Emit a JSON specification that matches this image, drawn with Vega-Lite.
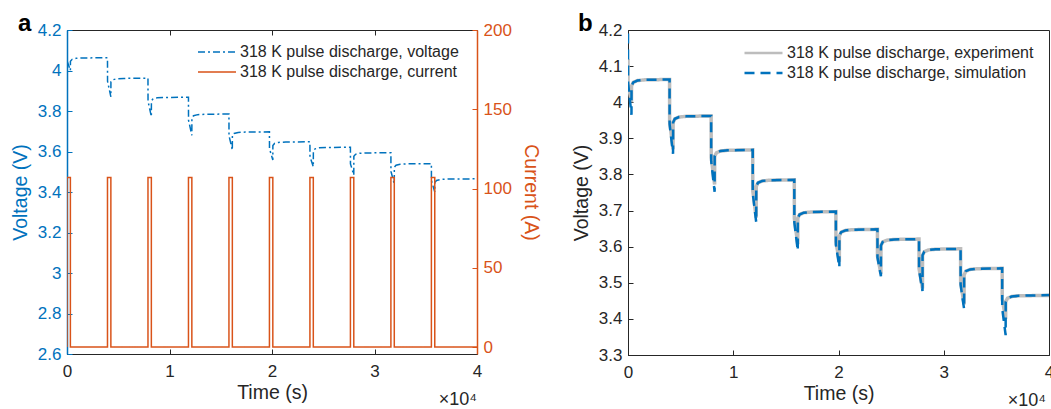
{
  "$schema": "https://vega.github.io/schema/vega-lite/v6.json",
  "autosize": {"type": "none"},
  "padding": {"left": 67, "top": 30, "right": 984, "bottom": 379},
  "background": "white",
  "bounds": "flush",
  "spacing": 561,
  "resolve": {"scale": {"color": "independent", "strokeDash": "independent"}, "legend": {"color": "independent", "strokeDash": "independent"}},
  "config": {
    "font": "Liberation Sans",
    "view": {"stroke": "#262626", "strokeWidth": 1},
    "axis": {
      "grid": false,
      "labelFontSize": 17,
      "titleFontSize": 19.5,
      "titleFontWeight": "normal",
      "labelColor": "#262626",
      "titleColor": "#262626",
      "domainColor": "#262626",
      "tickColor": "#262626",
      "tickSize": -5,
      "labelFlush": false,
      "labelOverlap": false,
      "labelFont": "Liberation Sans",
      "titleFont": "Liberation Sans"
    },
    "legend": {
      "labelFont": "Liberation Sans",
      "labelFontSize": 16,
      "labelColor": "#262626",
      "symbolType": "stroke",
      "symbolSize": 1444,
      "labelOffset": 3,
      "rowPadding": 2,
      "clipHeight": 18,
      "labelLimit": 400
    },
    "title": {"font": "Liberation Sans", "color": "black"}
  },
  "datasets": {
    "volt": [
      {"t":0,"exp":4.12,"sim":4.19},
      {"t":5,"exp":4.048,"sim":4.055},
      {"t":330,"exp":4.0,"sim":3.965},
      {"t":335,"exp":4.045,"sim":4.045},
      {"t":500,"exp":4.055,"sim":4.055},
      {"t":900,"exp":4.06,"sim":4.06},
      {"t":1600,"exp":4.062,"sim":4.062},
      {"t":3950,"exp":4.063,"sim":4.063},
      {"t":3955,"exp":3.947,"sim":3.939},
      {"t":4280,"exp":3.87,"sim":3.857},
      {"t":4285,"exp":3.944,"sim":3.944},
      {"t":4450,"exp":3.954,"sim":3.954},
      {"t":4850,"exp":3.959,"sim":3.959},
      {"t":5550,"exp":3.961,"sim":3.961},
      {"t":7900,"exp":3.962,"sim":3.962},
      {"t":7905,"exp":3.848,"sim":3.836},
      {"t":8230,"exp":3.772,"sim":3.752},
      {"t":8235,"exp":3.85,"sim":3.85},
      {"t":8400,"exp":3.86,"sim":3.86},
      {"t":8800,"exp":3.865,"sim":3.865},
      {"t":9500,"exp":3.867,"sim":3.867},
      {"t":11850,"exp":3.868,"sim":3.868},
      {"t":11855,"exp":3.755,"sim":3.748},
      {"t":12180,"exp":3.68,"sim":3.668},
      {"t":12185,"exp":3.767,"sim":3.767},
      {"t":12350,"exp":3.777,"sim":3.777},
      {"t":12750,"exp":3.782,"sim":3.782},
      {"t":13450,"exp":3.784,"sim":3.784},
      {"t":15800,"exp":3.785,"sim":3.785},
      {"t":15805,"exp":3.678,"sim":3.667},
      {"t":16130,"exp":3.607,"sim":3.589},
      {"t":16135,"exp":3.679,"sim":3.679},
      {"t":16300,"exp":3.689,"sim":3.689},
      {"t":16700,"exp":3.694,"sim":3.694},
      {"t":17400,"exp":3.696,"sim":3.696},
      {"t":19750,"exp":3.697,"sim":3.697},
      {"t":19755,"exp":3.614,"sim":3.605},
      {"t":20080,"exp":3.558,"sim":3.543},
      {"t":20085,"exp":3.63,"sim":3.63},
      {"t":20250,"exp":3.64,"sim":3.64},
      {"t":20650,"exp":3.645,"sim":3.645},
      {"t":21350,"exp":3.647,"sim":3.647},
      {"t":23700,"exp":3.648,"sim":3.648},
      {"t":23705,"exp":3.574,"sim":3.57},
      {"t":24030,"exp":3.525,"sim":3.518},
      {"t":24035,"exp":3.603,"sim":3.603},
      {"t":24200,"exp":3.613,"sim":3.613},
      {"t":24600,"exp":3.618,"sim":3.618},
      {"t":25300,"exp":3.62,"sim":3.62},
      {"t":27650,"exp":3.621,"sim":3.621},
      {"t":27655,"exp":3.539,"sim":3.535},
      {"t":27980,"exp":3.484,"sim":3.477},
      {"t":27985,"exp":3.576,"sim":3.576},
      {"t":28150,"exp":3.586,"sim":3.586},
      {"t":28550,"exp":3.591,"sim":3.591},
      {"t":29250,"exp":3.593,"sim":3.593},
      {"t":31600,"exp":3.594,"sim":3.594},
      {"t":31605,"exp":3.502,"sim":3.494},
      {"t":31930,"exp":3.44,"sim":3.428},
      {"t":31935,"exp":3.522,"sim":3.522},
      {"t":32100,"exp":3.532,"sim":3.532},
      {"t":32500,"exp":3.537,"sim":3.537},
      {"t":33200,"exp":3.539,"sim":3.539},
      {"t":35550,"exp":3.54,"sim":3.54},
      {"t":35555,"exp":3.456,"sim":3.429},
      {"t":35880,"exp":3.4,"sim":3.355},
      {"t":35885,"exp":3.447,"sim":3.447},
      {"t":36050,"exp":3.457,"sim":3.457},
      {"t":36450,"exp":3.462,"sim":3.462},
      {"t":37150,"exp":3.464,"sim":3.464},
      {"t":40000,"exp":3.465,"sim":3.466}
    ],
    "cur": [
      {"i":0,"t":0,"a":0},{"i":1,"t":0,"a":107},{"i":2,"t":330,"a":107},{"i":3,"t":330,"a":0},
      {"i":4,"t":3950,"a":0},{"i":5,"t":3950,"a":107},{"i":6,"t":4280,"a":107},{"i":7,"t":4280,"a":0},
      {"i":8,"t":7900,"a":0},{"i":9,"t":7900,"a":107},{"i":10,"t":8230,"a":107},{"i":11,"t":8230,"a":0},
      {"i":12,"t":11850,"a":0},{"i":13,"t":11850,"a":107},{"i":14,"t":12180,"a":107},{"i":15,"t":12180,"a":0},
      {"i":16,"t":15800,"a":0},{"i":17,"t":15800,"a":107},{"i":18,"t":16130,"a":107},{"i":19,"t":16130,"a":0},
      {"i":20,"t":19750,"a":0},{"i":21,"t":19750,"a":107},{"i":22,"t":20080,"a":107},{"i":23,"t":20080,"a":0},
      {"i":24,"t":23700,"a":0},{"i":25,"t":23700,"a":107},{"i":26,"t":24030,"a":107},{"i":27,"t":24030,"a":0},
      {"i":28,"t":27650,"a":0},{"i":29,"t":27650,"a":107},{"i":30,"t":27980,"a":107},{"i":31,"t":27980,"a":0},
      {"i":32,"t":31600,"a":0},{"i":33,"t":31600,"a":107},{"i":34,"t":31930,"a":107},{"i":35,"t":31930,"a":0},
      {"i":36,"t":35550,"a":0},{"i":37,"t":35550,"a":107},{"i":38,"t":35880,"a":107},{"i":39,"t":35880,"a":0},
      {"i":40,"t":40000,"a":0}
    ]
  },
  "hconcat": [
    {
      "title": {"text": "a", "anchor": "start", "frame": "group", "orient": "top", "dx": -49, "offset": -15, "fontSize": 24, "fontWeight": "bold", "color": "black"},
      "vconcat": [
        {
          "width": 410,
          "height": 324,
          "title": {"text": "×10⁴", "orient": "bottom", "anchor": "end", "frame": "group", "offset": -11, "fontSize": 18, "fontWeight": "normal", "color": "#262626"},
          "layer": [
            {
              "data": {"name": "volt"},
              "mark": {"type": "line", "strokeWidth": 1.5, "clip": true},
              "encoding": {
                "x": {"field": "t", "type": "quantitative", "scale": {"domain": [0, 40000], "nice": false},
                  "axis": {"orient": "bottom", "title": "Time (s)", "values": [0, 10000, 20000, 30000, 40000], "labelExpr": "datum.value/10000", "labelPadding": 14, "titlePadding": 4}},
                "y": {"field": "exp", "type": "quantitative", "scale": {"domain": [2.6, 4.2], "nice": false, "zero": false},
                  "axis": {"title": "Voltage (V)", "values": [2.6, 2.8, 3, 3.2, 3.4, 3.6, 3.8, 4, 4.2], "format": ".1~f", "labelPadding": 11, "titlePadding": 7,
                    "labelColor": "#0072BD", "titleColor": "#0072BD", "domainColor": "#0072BD", "tickColor": "#0072BD", "domainWidth": 1.5}},
                "color": {"datum": "318 K pulse discharge, voltage", "type": "nominal",
                  "scale": {"domain": ["318 K pulse discharge, voltage", "318 K pulse discharge, current"], "range": ["#0072BD", "#D95319"]},
                  "legend": {"orient": "none", "legendX": 130, "legendY": 13, "title": null, "symbolStrokeWidth": 1.5}},
                "strokeDash": {"datum": "318 K pulse discharge, voltage", "type": "nominal",
                  "scale": {"domain": ["318 K pulse discharge, voltage", "318 K pulse discharge, current"], "range": [[7, 3, 2, 3], [1, 0]]},
                  "legend": {"orient": "none", "legendX": 130, "legendY": 13, "title": null, "symbolStrokeWidth": 1.5}}
              }
            },
            {
              "data": {"name": "cur"},
              "mark": {"type": "line", "strokeWidth": 1.5, "clip": true},
              "encoding": {
                "x": {"field": "t", "type": "quantitative", "scale": {"domain": [0, 40000], "nice": false},
                  "axis": {"orient": "top", "title": null, "labels": false, "domain": false, "values": [10000, 20000, 30000]}},
                "y": {"field": "a", "type": "quantitative", "scale": {"domain": [-4.4, 200], "nice": false, "zero": false},
                  "axis": {"orient": "right", "title": "Current (A)", "values": [0, 50, 100, 150, 200], "labelPadding": 11, "titlePadding": 9,
                    "labelColor": "#D95319", "titleColor": "#D95319", "domainColor": "#D95319", "tickColor": "#D95319", "domainWidth": 1.5}},
                "order": {"field": "i", "type": "quantitative"},
                "color": {"datum": "318 K pulse discharge, current", "type": "nominal"},
                "strokeDash": {"datum": "318 K pulse discharge, current", "type": "nominal"}
              }
            }
          ],
          "resolve": {"scale": {"y": "independent"}, "axis": {"x": "independent"}}
        }
      ]
    },
    {
      "title": {"text": "b", "anchor": "start", "frame": "group", "orient": "top", "dx": -50, "offset": -15, "fontSize": 24, "fontWeight": "bold", "color": "black"},
      "vconcat": [
        {
          "width": 421,
          "height": 325,
          "view": {"stroke": "#262626", "strokeWidth": 1},
          "title": {"text": "×10⁴", "orient": "bottom", "anchor": "end", "frame": "group", "offset": -11, "dx": -3, "fontSize": 18, "fontWeight": "normal", "color": "#262626"},
          "data": {"name": "volt"},
          "layer": [
            {
              "mark": {"type": "line", "strokeWidth": 3.5, "clip": true},
              "encoding": {
                "x": {"field": "t", "type": "quantitative", "scale": {"domain": [0, 40000], "nice": false},
                  "axis": {"title": "Time (s)", "values": [0, 10000, 20000, 30000, 40000], "labelExpr": "datum.value/10000", "labelPadding": 14, "titlePadding": 4}},
                "y": {"field": "exp", "type": "quantitative", "scale": {"domain": [3.3, 4.2], "nice": false, "zero": false},
                  "axis": {"title": "Voltage (V)", "values": [3.3, 3.4, 3.5, 3.6, 3.7, 3.8, 3.9, 4, 4.1, 4.2], "format": ".1~f", "labelOverlap": false, "labelPadding": 11, "titlePadding": 7}},
                "color": {"datum": "318 K pulse discharge, experiment", "type": "nominal",
                  "scale": {"domain": ["318 K pulse discharge, experiment", "318 K pulse discharge, simulation"], "range": ["#BDBDBD", "#0072BD"]},
                  "legend": {"orient": "none", "legendX": 115, "legendY": 14, "title": null, "symbolStrokeWidth": 2.5}},
                "strokeDash": {"datum": "318 K pulse discharge, experiment", "type": "nominal",
                  "scale": {"domain": ["318 K pulse discharge, experiment", "318 K pulse discharge, simulation"], "range": [[1, 0], [10, 6]]},
                  "legend": {"orient": "none", "legendX": 115, "legendY": 14, "title": null, "symbolStrokeWidth": 2.5}}
              }
            },
            {
              "mark": {"type": "line", "strokeWidth": 2.5, "clip": true},
              "encoding": {
                "x": {"field": "t", "type": "quantitative", "scale": {"domain": [0, 40000], "nice": false},
                  "axis": {"title": "Time (s)", "values": [0, 10000, 20000, 30000, 40000], "labelExpr": "datum.value/10000", "labelPadding": 14, "titlePadding": 4}},
                "y": {"field": "sim", "type": "quantitative", "scale": {"domain": [3.3, 4.2], "nice": false, "zero": false},
                  "axis": {"title": "Voltage (V)", "values": [3.3, 3.4, 3.5, 3.6, 3.7, 3.8, 3.9, 4, 4.1, 4.2], "format": ".1~f", "labelOverlap": false, "labelPadding": 11, "titlePadding": 7}},
                "color": {"datum": "318 K pulse discharge, simulation", "type": "nominal"},
                "strokeDash": {"datum": "318 K pulse discharge, simulation", "type": "nominal"}
              }
            }
          ]
        }
      ]
    }
  ]
}
